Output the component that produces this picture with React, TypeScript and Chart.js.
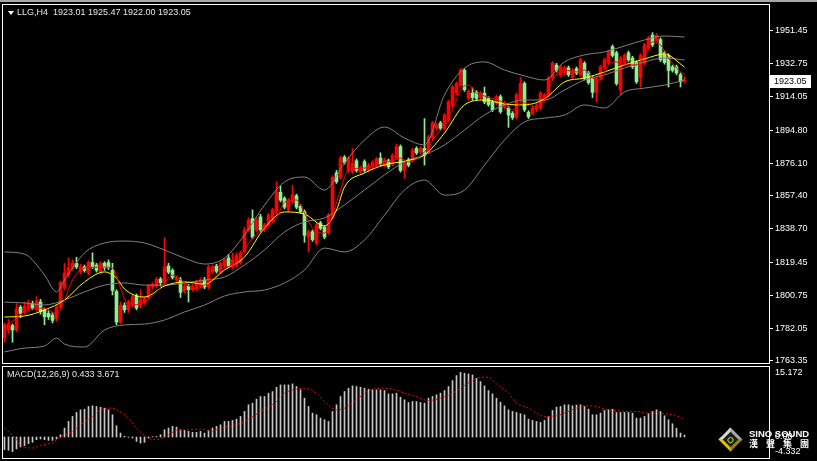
import React, { useEffect, useRef } from 'react';
import { Chart, registerables } from 'chart.js';

Chart.register(...registerables);

const symbolTitle = 'LLG,H4  1923.01 1925.47 1922.00 1923.05';
const macdTitle = 'MACD(12,26,9) 0.433 3.671';

const candleOpen = [
  1776.5, 1781, 1783.5, 1781, 1794, 1791, 1793, 1796, 1793, 1797,
  1792.5, 1790.5, 1789.5, 1787.5, 1794, 1805, 1812.5, 1816, 1819, 1814,
  1817, 1813.5, 1819.5, 1818, 1814, 1819, 1819.5, 1815, 1803, 1785.5,
  1795, 1792.5, 1795, 1800.5, 1794.5, 1796.5, 1799.5, 1805.5, 1806, 1810,
  1808, 1817.5, 1815, 1809.5, 1809.5, 1803, 1806, 1804, 1804.5, 1806,
  1809.5, 1805.5, 1814, 1817.5, 1814, 1817.5, 1822, 1817, 1818, 1819.5,
  1826, 1838, 1844.5, 1838, 1845.5, 1838, 1841, 1843.5, 1848, 1859.5,
  1856, 1849.5, 1854, 1857.5, 1851.5, 1848.5, 1834, 1837, 1830.5, 1842,
  1839.5, 1836.5, 1845, 1870.5, 1868, 1879.5, 1872, 1871, 1877.5, 1871,
  1877, 1872, 1874, 1875, 1879, 1875, 1877.5, 1875.5, 1879, 1885.5,
  1872, 1878, 1878, 1884.5, 1882.5, 1884.5, 1882.5, 1890.5, 1896, 1899,
  1896, 1900.5, 1909, 1916, 1920.5, 1929, 1913, 1916, 1916.5, 1913.5,
  1916, 1913, 1911, 1910.5, 1914, 1908, 1907.5, 1904.5, 1902.5, 1912,
  1921.5, 1905, 1904.5, 1906.5, 1907.5, 1912, 1915, 1924.5, 1932, 1926.5,
  1927.5, 1930.5, 1925, 1930, 1926.5, 1933, 1927.5, 1924.5, 1916.5, 1924.5,
  1930.5, 1933.5, 1942.5, 1939, 1918, 1933, 1939, 1936, 1933.5, 1925,
  1933, 1941.5, 1949, 1946, 1946.5, 1939, 1937.5, 1931, 1931, 1926.5,
  1923.01,
];
const candleHigh = [
  1785, 1787, 1784.5, 1796, 1795, 1797, 1798, 1797.5, 1800, 1798.5,
  1793.5, 1792, 1791, 1795, 1809, 1819, 1822, 1821, 1822.5, 1818.5,
  1818, 1820.5, 1825, 1819, 1820, 1820, 1821, 1819, 1804, 1797,
  1796.5, 1798, 1801, 1801.5, 1804, 1800, 1807, 1808, 1811, 1811,
  1833.5, 1819, 1816, 1812, 1811, 1807, 1807, 1807, 1809.5, 1810.5,
  1811, 1818, 1818, 1818.5, 1820, 1822, 1824, 1825, 1825, 1826,
  1839.5, 1845, 1849.5, 1845, 1847, 1842, 1847.5, 1850.5, 1865.5, 1863,
  1857, 1856, 1863.5, 1858.5, 1852.5, 1849.5, 1838, 1838, 1842, 1843,
  1840.5, 1847.5, 1869, 1872, 1880, 1880.5, 1880, 1884.5, 1878.5, 1874.5,
  1878, 1876, 1877.5, 1879.5, 1882, 1879, 1878.5, 1881.5, 1887, 1886.5,
  1877, 1879, 1884.5, 1885.5, 1885.5, 1901.5, 1892, 1900, 1899, 1900,
  1904.5, 1912, 1920.5, 1922.5, 1930, 1930, 1918, 1919, 1917.5, 1917,
  1919.5, 1914, 1912, 1915, 1915, 1911.5, 1908.5, 1905.5, 1916, 1925,
  1922.5, 1906, 1908.5, 1910, 1917, 1916, 1925.5, 1934, 1933, 1932,
  1931.5, 1931.5, 1930, 1931, 1936, 1934, 1928.5, 1925.5, 1925.5, 1932,
  1936, 1940.5, 1943.5, 1940, 1937, 1938.5, 1940, 1937, 1934.5, 1938.5,
  1944.5, 1948.5, 1950.5, 1950, 1947.5, 1940, 1938.5, 1932, 1932, 1927.5,
  1925.47,
];
const candleLow = [
  1774, 1779, 1774, 1780, 1788, 1790, 1792, 1792.5, 1792, 1790,
  1784, 1787, 1785, 1786, 1793, 1804, 1811, 1815, 1816, 1813,
  1814, 1812.5, 1816, 1814, 1813, 1815, 1815.5, 1801, 1784, 1784.5,
  1791, 1791, 1794, 1792.5, 1793.5, 1795.5, 1798.5, 1804.5, 1805, 1806,
  1807, 1813, 1810, 1808.5, 1799.5, 1802, 1797, 1803, 1803.5, 1805,
  1804.5, 1804.5, 1813, 1813.5, 1813, 1816.5, 1816.5, 1816, 1817, 1818.5,
  1825, 1837, 1833, 1837, 1837, 1837, 1840, 1842.5, 1847, 1854,
  1850, 1848.5, 1853, 1850, 1847.5, 1831, 1825.5, 1831.5, 1829.5, 1838,
  1833, 1835.5, 1844, 1864.5, 1867, 1875.5, 1871, 1870, 1871, 1870,
  1871, 1871, 1873, 1874, 1874.5, 1874, 1873, 1874.5, 1878, 1871,
  1867.5, 1874, 1877, 1881, 1881.5, 1875, 1881.5, 1889.5, 1895, 1895,
  1895, 1899.5, 1908, 1915, 1919.5, 1917, 1912, 1912, 1912, 1912.5,
  1910, 1908.5, 1905.5, 1909.5, 1904.5, 1907, 1896.5, 1901, 1901.5, 1911,
  1905.5, 1901.5, 1903.5, 1905.5, 1906.5, 1911, 1914, 1923.5, 1928, 1925.5,
  1926.5, 1925.5, 1924, 1926.5, 1925.5, 1923.5, 1921, 1913.5, 1911, 1923.5,
  1929.5, 1932.5, 1936.5, 1920.5, 1915, 1932, 1934, 1930, 1921.5, 1919.5,
  1932, 1940.5, 1942.5, 1945, 1934, 1932.5, 1919.5, 1928, 1926.5, 1919.5,
  1922.0,
];
const candleClose = [
  1784, 1784.5, 1781, 1793, 1790.5, 1794.5, 1796.5, 1793.5, 1797.5, 1791.5,
  1788.5, 1788.5, 1786.5, 1794, 1808, 1813.5, 1816.5, 1819, 1817, 1817,
  1815, 1819.5, 1817, 1815, 1819, 1816.5, 1816.5, 1803.5, 1785.5, 1795,
  1792.5, 1797, 1800, 1793.5, 1798, 1799, 1806, 1807, 1810, 1808,
  1817, 1814, 1811, 1811, 1802.5, 1806, 1804, 1806, 1808.5, 1809.5,
  1805.5, 1817, 1817, 1814.5, 1819, 1821, 1817.5, 1821, 1823.5, 1825,
  1838, 1843.5, 1834, 1843.5, 1838, 1841, 1846.5, 1849.5, 1859.5, 1855,
  1851, 1855, 1858, 1851, 1848.5, 1835, 1837, 1832.5, 1841, 1839,
  1834, 1846.5, 1868, 1865.5, 1879, 1876.5, 1879, 1876, 1872, 1873.5,
  1872, 1875, 1876.5, 1878.5, 1875.5, 1878, 1874, 1880.5, 1885.5, 1872,
  1876, 1875, 1883.5, 1882, 1884.5, 1880.5, 1891, 1899, 1898, 1896,
  1903.5, 1911, 1919.5, 1921.5, 1929, 1918, 1917, 1913.5, 1913, 1916,
  1911, 1909.5, 1906.5, 1914, 1905.5, 1910.5, 1903.5, 1902, 1915, 1921.5,
  1906.5, 1902.5, 1907.5, 1909, 1916, 1915, 1924.5, 1933, 1929, 1931,
  1930.5, 1926.5, 1929, 1927.5, 1935, 1924.5, 1922, 1916.5, 1924.5, 1931,
  1935, 1939.5, 1937.5, 1921.5, 1936, 1937.5, 1935, 1931, 1922.5, 1937.5,
  1943.5, 1947.5, 1943.5, 1949, 1935, 1933.5, 1929, 1929, 1927.5, 1922.5,
  1923.05,
];

// Bollinger bands and moving averages: [bar index, price]
const bandUpper = [
  [0, 1825.5], [5, 1824.3], [10, 1812.4], [13, 1802.7], [15, 1809.5], [20, 1824.9], [25, 1830.6],
  [30, 1831.7], [35, 1830.6], [40, 1826.6], [45, 1822.0], [50, 1818.6], [55, 1822.0], [60, 1835.2],
  [65, 1852.2], [70, 1865.4], [75, 1868.2], [80, 1860.8], [85, 1876.2], [90, 1889.3], [95, 1896.7],
  [100, 1890.4], [105, 1886.5], [110, 1915.0], [115, 1930.3], [120, 1933.8], [125, 1929.2],
  [130, 1925.8], [135, 1923.5], [140, 1933.8], [145, 1937.8], [150, 1939.5], [155, 1942.9],
  [160, 1946.3], [165, 1948.6], [170, 1948.0],
];
const bandMiddle = [
  [0, 1796.9], [5, 1796.4], [10, 1795.3], [15, 1798.1], [20, 1802.7], [25, 1806.6], [30, 1807.8],
  [35, 1806.6], [40, 1806.6], [45, 1807.8], [50, 1809.5], [55, 1811.2], [60, 1818.1], [65, 1826.6],
  [70, 1836.9], [75, 1842.6], [80, 1844.9], [85, 1852.3], [90, 1860.8], [95, 1869.4], [100, 1876.8],
  [105, 1880.8], [110, 1886.5], [115, 1895.0], [120, 1903.6], [125, 1909.3], [130, 1912.1],
  [135, 1912.1], [140, 1917.8], [145, 1923.5], [150, 1926.4], [155, 1930.3], [160, 1933.8],
  [165, 1936.0], [170, 1934.9],
];
const bandLower = [
  [0, 1768.5], [5, 1770.7], [10, 1771.9], [13, 1776.4], [15, 1773.0], [20, 1771.3], [25, 1781.0],
  [30, 1783.9], [35, 1784.4], [40, 1786.7], [45, 1791.3], [50, 1795.2], [55, 1800.4], [60, 1802.7],
  [65, 1803.8], [70, 1807.8], [75, 1815.2], [80, 1827.7], [85, 1825.5], [90, 1832.3], [95, 1846.5],
  [100, 1860.8], [105, 1866.5], [110, 1857.9], [115, 1860.8], [120, 1875.0], [125, 1889.3],
  [130, 1899.6], [135, 1901.8], [140, 1903.5], [145, 1909.3], [150, 1907.5], [155, 1916.7],
  [160, 1918.9], [165, 1920.6], [170, 1923.5],
];
const maYellow = [
  [0, 1788.4], [5, 1789.0], [10, 1792.4], [15, 1798.1], [20, 1808.4], [25, 1814.1], [28, 1810.6],
  [30, 1804.4], [35, 1799.8], [40, 1806.1], [45, 1808.4], [50, 1807.2], [55, 1815.2], [60, 1822.6],
  [65, 1839.1], [70, 1848.3], [75, 1847.1], [80, 1840.3], [83, 1849.4], [85, 1862.5], [90, 1870.5],
  [95, 1875.1], [100, 1877.3], [105, 1880.8], [110, 1893.3], [115, 1909.3], [120, 1912.1],
  [125, 1909.8], [130, 1909.3], [135, 1912.7], [140, 1922.4], [145, 1924.6], [150, 1928.1],
  [155, 1932.1], [160, 1935.5], [165, 1938.3], [170, 1930.9],
];
const maRed = [
  [0, 1782.1], [5, 1791.3], [10, 1793.5], [13, 1790.1], [15, 1798.1], [17, 1809.5], [20, 1816.3],
  [25, 1816.9], [27, 1816.3], [29, 1804.9], [31, 1795.2], [35, 1797.0], [38, 1802.7], [40, 1807.8],
  [42, 1812.3], [45, 1807.8], [48, 1804.4], [50, 1806.6], [53, 1812.3], [55, 1816.3], [58, 1819.2],
  [60, 1826.6], [62, 1833.4], [65, 1839.1], [68, 1844.8], [70, 1853.9], [73, 1855.1], [75, 1847.7],
  [77, 1839.1], [80, 1836.3], [82, 1846.6], [84, 1860.8], [86, 1872.2], [90, 1873.3], [95, 1876.2],
  [99, 1879.0], [101, 1876.8], [105, 1882.5], [108, 1892.2], [110, 1897.9], [112, 1906.4],
  [114, 1917.8], [116, 1920.6], [118, 1916.1], [120, 1914.4], [123, 1912.1], [125, 1910.4],
  [127, 1906.4], [129, 1910.4], [131, 1910.4], [133, 1907.5], [135, 1912.1], [137, 1923.5],
  [140, 1929.2], [143, 1928.1], [145, 1929.2], [147, 1924.6], [149, 1923.5], [151, 1932.1],
  [153, 1933.8], [155, 1932.1], [158, 1932.1], [160, 1937.8], [162, 1945.2], [164, 1943.5],
  [166, 1936.0], [168, 1930.3], [170, 1926.4],
];

const priceTicks = [1951.45, 1932.75, 1914.05, 1894.8, 1876.1, 1857.4, 1838.7, 1819.45, 1800.75, 1782.05, 1763.35];
const priceTop = 1966.25;
const priceBottom = 1762.2;
const lastPrice = 1923.05;

const macdHist = [
  -2.73, -2.88, -3.17, -2.59, -2.16, -1.87, -1.44, -1.15, -0.58, -0.43,
  -0.58, -0.72, -0.72, -0.43, 0.5, 1.94, 3.38, 4.46, 5.32, 5.9,
  6.04, 6.62, 6.76, 6.62, 6.47, 6.26, 5.9, 4.82, 2.45, 0.86,
  0.14, -0.05, -0.22, -0.94, -1.29, -1.15, -0.22, 0.05, 0.1, 0.5,
  1.58, 1.94, 2.3, 2.16, 1.58, 1.44, 1.22, 1.01, 1.01, 1.22,
  0.86, 1.44, 1.94, 2.3, 2.66, 3.38, 3.38, 3.6, 3.88, 4.46,
  5.54, 6.98, 7.34, 8.2, 8.78, 8.78, 9.5, 9.86, 10.79, 11.29,
  11.29, 11.29, 11.51, 10.94, 10.22, 8.42, 6.62, 5.18, 4.82, 4.1,
  3.74, 3.38, 5.54, 6.98, 8.78, 9.86, 10.58, 11.08, 10.94, 10.79,
  10.58, 10.36, 10.22, 10.22, 10.22, 10.07, 9.35, 9.35, 9.5, 8.63,
  8.06, 7.48, 7.7, 7.7, 7.48, 7.34, 8.42, 8.78, 9.14, 9.5,
  10.07, 10.94, 12.23, 13.31, 14.03, 13.81, 13.67, 13.45, 12.73, 12.01,
  11.08, 10.07, 9.35, 8.42, 7.55, 6.76, 5.9, 5.54, 5.32, 5.04,
  4.82, 3.88, 3.6, 3.38, 3.17, 3.6, 4.46, 5.76, 6.47, 6.62,
  6.98, 6.98, 6.76, 6.91, 6.98, 6.62, 6.04, 4.82, 4.82, 5.18,
  5.76, 5.9, 6.04, 5.32, 5.32, 5.32, 5.32, 5.18, 4.1, 4.1,
  4.46, 5.04, 5.54, 5.9, 5.54, 4.6, 3.74, 2.88, 1.94, 0.86,
  0.433,
];
const macdSignal = [
  [0, 1.94], [3, -0.58], [4, -1.87], [7, -2.37], [9, -1.87], [12, -1.15], [14, 0], [17, 1.22],
  [19, 2.66], [22, 4.46], [24, 5.9], [27, 6.26], [28, 5.9], [31, 4.1], [33, 1.94], [36, -0.22],
  [38, -0.58], [41, 0.5], [43, 1.44], [46, 1.58], [49, 1.73], [52, 1.22], [54, 1.94], [58, 2.66],
  [61, 3.88], [64, 5.54], [68, 7.7], [70, 9.5], [73, 10.36], [75, 10.58], [78, 9.5], [80, 7.7],
  [83, 5.9], [85, 6.26], [88, 8.06], [90, 9.5], [92, 10.36], [95, 10.58], [99, 9.86], [100, 9.5],
  [103, 8.78], [106, 7.91], [109, 8.42], [112, 9.5], [114, 10.58], [117, 12.23], [119, 12.95],
  [121, 12.95], [123, 11.51], [126, 9.5], [128, 7.34], [131, 6.26], [133, 5.18], [135, 4.46],
  [138, 4.6], [140, 5.18], [143, 6.26], [145, 6.76], [148, 6.62], [150, 6.04], [153, 5.76],
  [155, 5.54], [158, 5.54], [161, 5.18], [163, 5.18], [166, 4.96], [168, 4.6], [170, 3.671],
];
const macdTop = 15.172;
const macdBottom = -4.332;

const RED = '#ff0000';
const GREEN = '#90ee90';
const GRAY = '#808080';
const FONT = '"Liberation Sans", Arial, sans-serif';

const xMin = -0.375;
const xMax = 191.125;

const toPoints = (arr: number[][]) => arr.map(([x, y]) => ({ x, y }));

export default function App() {
  const mainRef = useRef<HTMLCanvasElement>(null);
  const macdRef = useRef<HTMLCanvasElement>(null);

  useEffect(() => {
    const idx = candleOpen.map((_, i) => i);
    const colorOf = (i: number) => (candleClose[i] >= candleOpen[i] ? RED : GREEN);

    const lineDs = (data: number[][], color: string, order: number) => ({
      type: 'line' as const,
      data: toPoints(data),
      borderColor: color,
      borderWidth: 1,
      pointRadius: 0,
      tension: 0.35,
      cubicInterpolationMode: 'monotone' as const,
      fill: false,
      order,
    });

    const priceBox = {
      id: 'priceBox',
      afterDraw(chart: any) {
        const ys = chart.scales.y;
        const y = Math.round(ys.getPixelForValue(lastPrice));
        const { ctx } = chart;
        ctx.save();
        ctx.fillStyle = '#ffffff';
        ctx.fillRect(770, y - 6, 41, 13);
        ctx.fillStyle = '#000000';
        ctx.font = `9px ${FONT}`;
        ctx.textBaseline = 'middle';
        ctx.fillText(lastPrice.toFixed(2), 774, y + 0.5);
        ctx.restore();
      },
    };

    const xScale = { type: 'linear', min: xMin, max: xMax, offset: false, display: false, grid: { offset: false } };

    const main = new Chart(mainRef.current!, {
      type: 'bar',
      data: {
        datasets: [
          {
            type: 'bar',
            data: idx.map((i) => ({ x: i, y: [candleLow[i], candleHigh[i]] })) as any,
            backgroundColor: (c: any) => colorOf(c.dataIndex),
            barThickness: 1,
            grouped: false,
            barPercentage: 1,
            categoryPercentage: 1,
            order: 4,
          },
          {
            type: 'bar',
            data: idx.map((i) => ({ x: i, y: [candleOpen[i], candleClose[i]] })) as any,
            backgroundColor: (c: any) => colorOf(c.dataIndex),
            barThickness: 3,
            minBarLength: 1,
            grouped: false,
            barPercentage: 1,
            categoryPercentage: 1,
            order: 3,
          },
          lineDs(bandUpper, GRAY, 2),
          lineDs(bandMiddle, GRAY, 2),
          lineDs(bandLower, GRAY, 2),
          lineDs(maYellow, '#ffff00', 1),
          lineDs(maRed, RED, 0),
        ] as any,
      },
      options: {
        responsive: false,
        animation: false,
        events: [],
        layout: { padding: { left: 3, top: 5, right: 0, bottom: 3 } },
        plugins: { legend: { display: false }, tooltip: { enabled: false } },
        scales: {
          x: xScale,
          y: {
            position: 'right',
            min: priceBottom,
            max: priceTop,
            afterBuildTicks: (s: any) => {
              s.ticks = priceTicks.map((v) => ({ value: v }));
            },
            afterFit: (s: any) => {
              s.width = 48;
              s.paddingTop = 0;
              s.paddingBottom = 0;
            },
            ticks: {
              color: '#ffffff',
              font: { family: FONT, size: 9 },
              padding: 2,
              autoSkip: false,
              callback: (v: any) => Number(v).toFixed(2),
            },
            grid: { drawOnChartArea: false, drawTicks: true, tickLength: 4, color: '#ffffff' },
            border: { display: false },
          },
        },
      } as any,
      plugins: [priceBox],
    });

    const macdLabels = {
      id: 'macdLabels',
      afterDraw(chart: any) {
        const ys = chart.scales.y;
        const { ctx } = chart;
        ctx.save();
        ctx.fillStyle = '#ffffff';
        ctx.font = `9px ${FONT}`;
        ctx.textBaseline = 'top';
        ctx.fillText(macdTop.toFixed(3), 775, ys.getPixelForValue(macdTop) + 1);
        ctx.textBaseline = 'middle';
        ctx.fillText('0.00', 775, ys.getPixelForValue(0));
        ctx.textBaseline = 'bottom';
        ctx.fillText(macdBottom.toFixed(3), 775, ys.getPixelForValue(macdBottom) - 1);
        ctx.restore();
      },
    };

    const macd = new Chart(macdRef.current!, {
      type: 'bar',
      data: {
        datasets: [
          {
            type: 'bar',
            data: idx.map((i) => ({ x: i, y: macdHist[i] })) as any,
            backgroundColor: '#c8c8c8',
            barThickness: 1,
            grouped: false,
            barPercentage: 1,
            categoryPercentage: 1,
            order: 1,
          },
          {
            type: 'line',
            data: toPoints(macdSignal),
            borderColor: RED,
            borderWidth: 1,
            borderDash: [2, 2],
            pointRadius: 0,
            tension: 0.35,
            cubicInterpolationMode: 'monotone',
            fill: false,
            order: 0,
          },
        ] as any,
      },
      options: {
        responsive: false,
        animation: false,
        events: [],
        layout: { padding: { left: 3, top: 1, right: 48, bottom: 4 } },
        plugins: { legend: { display: false }, tooltip: { enabled: false } },
        scales: {
          x: xScale,
          y: { min: macdBottom, max: macdTop, display: false },
        },
      } as any,
      plugins: [macdLabels],
    });

    return () => {
      main.destroy();
      macd.destroy();
    };
  }, []);

  const textStyle: React.CSSProperties = {
    position: 'absolute',
    color: '#e8e8e8',
    fontFamily: FONT,
    fontSize: 9,
    lineHeight: '9px',
    whiteSpace: 'pre',
  };

  return (
    <div
      style={{
        position: 'fixed',
        left: 0,
        top: 0,
        width: 817,
        height: 461,
        background: '#000',
        overflow: 'hidden',
      }}
    >
      <div style={{ position: 'absolute', left: 0, top: 0, width: 817, height: 2, background: '#a8a8a8' }} />
      <canvas
        ref={mainRef}
        width={817}
        height={366}
        style={{ position: 'absolute', left: 0, top: 0, width: 817, height: 366 }}
      />
      <canvas
        ref={macdRef}
        width={817}
        height={95}
        style={{ position: 'absolute', left: 0, top: 366, width: 817, height: 95 }}
      />
      <div
        style={{
          position: 'absolute',
          left: 2,
          top: 4,
          width: 768,
          height: 360,
          border: '1px solid #fff',
          boxSizing: 'border-box',
          pointerEvents: 'none',
        }}
      />
      <div
        style={{
          position: 'absolute',
          left: 2,
          top: 366,
          width: 768,
          height: 93,
          border: '1px solid #fff',
          boxSizing: 'border-box',
          pointerEvents: 'none',
        }}
      />
      <div
        style={{
          position: 'absolute',
          left: 8,
          top: 11,
          width: 0,
          height: 0,
          borderLeft: '3.5px solid transparent',
          borderRight: '3.5px solid transparent',
          borderTop: '4px solid #fff',
        }}
      />
      <div style={{ ...textStyle, left: 17, top: 8 }}>{symbolTitle}</div>
      <div style={{ ...textStyle, left: 7, top: 370 }}>{macdTitle}</div>
      <div
        style={{
          position: 'absolute',
          left: 722,
          top: 431,
          width: 17,
          height: 17,
          transform: 'rotate(45deg)',
          boxSizing: 'border-box',
          background: '#1e1e1e',
          borderTop: '3px solid #a8a8a8',
          borderLeft: '3px solid #d8d8d8',
          borderBottom: '3px solid #e6c200',
          borderRight: '3px solid #a08000',
        }}
      >
        <div
          style={{
            position: 'absolute',
            left: 2.5,
            top: 2.5,
            width: 6,
            height: 6,
            borderRadius: '50%',
            boxSizing: 'border-box',
            border: '1.5px solid #9acd32',
          }}
        />
      </div>
      <div
        style={{
          position: 'absolute',
          left: 749,
          top: 429,
          color: '#fff',
          fontFamily: FONT,
          fontWeight: 'bold',
          fontSize: 9.5,
          lineHeight: '10px',
          whiteSpace: 'pre',
        }}
      >
        SINO SOUND
      </div>
      <div
        style={{
          position: 'absolute',
          left: 749,
          top: 439,
          color: '#fff',
          fontFamily: '"Noto Sans CJK TC", "Noto Sans CJK SC", sans-serif',
          fontWeight: 'bold',
          fontSize: 9,
          lineHeight: '10px',
          letterSpacing: 8,
          whiteSpace: 'pre',
        }}
      >
        漢聲集團
      </div>
    </div>
  );
}
